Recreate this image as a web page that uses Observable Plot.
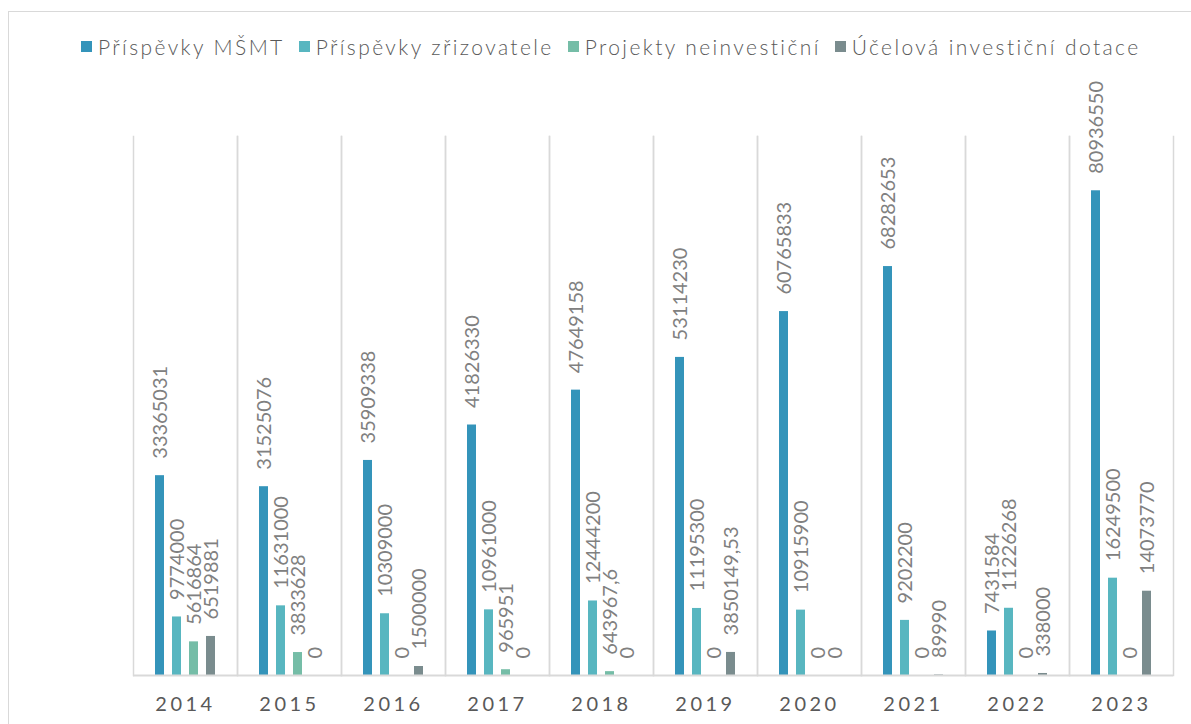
<!DOCTYPE html>
<html>
<head>
<meta charset="utf-8">
<script src="https://cdn.jsdelivr.net/npm/d3@7"></script>
<script src="https://cdn.jsdelivr.net/npm/@observablehq/plot@0.6"></script>
<style>
  html, body { margin: 0; padding: 0; background: #fff; overflow: hidden; }
  body { width: 1191px; height: 724px; position: relative; font-family: Lato, "DejaVu Sans", sans-serif; }
  #box { position: absolute; left: 8px; top: 11px; width: 1300px; height: 800px; border: 1px solid #d9d9d9; box-sizing: border-box; }
  #legend { position: absolute; left: 81px; top: 34px; display: flex; align-items: center; font-size: 21px; color: #595959; letter-spacing: 2.4px; white-space: nowrap; font-weight: 300; }
  #legend .item { display: flex; align-items: center; margin-right: 14px; }
  #legend .sw { width: 11px; height: 11px; margin-right: 6px; }
  #chart { position: absolute; left: 0; top: 80px; }
  #chart g[aria-label="fx-axis tick label"] text { letter-spacing: 3.5px; }
</style>
</head>
<body>
<div id="box"></div>
<div id="legend"></div>
<div id="chart"></div>
<script>
const years = ["2014","2015","2016","2017","2018","2019","2020","2021","2022","2023"];
const series = ["Příspěvky MŠMT","Příspěvky zřizovatele","Projekty neinvestiční","Účelová investiční dotace"];
const colors = ["#3494BA","#58B6C0","#75BDA7","#7A8C8E"];
const msmt = [33365031,31525076,35909338,41826330,47649158,53114230,60765833,68282653,7431584,80936550];
const zrizovatele = [9774000,11631000,10309000,10961000,12444200,11195300,10915900,9202200,11226268,16249500];
const projekty = [5616864,3833628,0,965951,643967.6,0,0,0,0,0];
const ucelova = [6519881,0,1500000,0,0,3850149.53,0,89990,338000,14073770];
const yMax = 90000000;

const valuesBySeries = [msmt, zrizovatele, projekty, ucelova];
const data = [];
years.forEach((yr, i) => {
  series.forEach((s, j) => {
    const v = valuesBySeries[j][i];
    data.push({year: yr, series: s, value: v, label: String(v).replace(".", ",")});
  });
});

// legend
const legend = document.getElementById("legend");
series.forEach((s, j) => {
  const it = document.createElement("div");
  it.className = "item";
  const sw = document.createElement("span");
  sw.className = "sw";
  sw.style.background = colors[j];
  const t = document.createElement("span");
  t.textContent = s;
  it.appendChild(sw); it.appendChild(t);
  legend.appendChild(it);
});

const chart = Plot.plot({
  width: 1191,
  height: 644,
  marginTop: 56,
  marginBottom: 49,
  marginLeft: 133,
  marginRight: 18,
  style: {fontFamily: "Lato, 'DejaVu Sans', sans-serif", background: "transparent"},
  fx: {domain: years, padding: 0, label: null, axis: null},
  x: {domain: series, paddingInner: 0.469, paddingOuter: 1.147, axis: null},
  y: {domain: [0, yMax], axis: null},
  color: {domain: series, range: colors},
  marks: [
    Plot.frame({anchor: "left", stroke: "#d9d9d9", strokeWidth: 1.5}),
    Plot.frame({anchor: "right", stroke: "#d9d9d9", strokeWidth: 1.5}),
    Plot.barY(data, {fx: "year", x: "series", y: "value", fill: "series"}),
    Plot.ruleY([0], {stroke: "#d9d9d9", strokeWidth: 2}),
    Plot.text(data, {fx: "year", x: "series", y: "value", text: "label", rotate: -90, textAnchor: "start", lineAnchor: "middle", dy: -17, dx: 1, fill: "#808080", fontSize: 20}),
    Plot.axisFx({anchor: "bottom", tickSize: 0, tickPadding: 21, label: null, fontSize: 20, fill: "#595959"})
  ]
});
document.getElementById("chart").appendChild(chart);
</script>
</body>
</html>
